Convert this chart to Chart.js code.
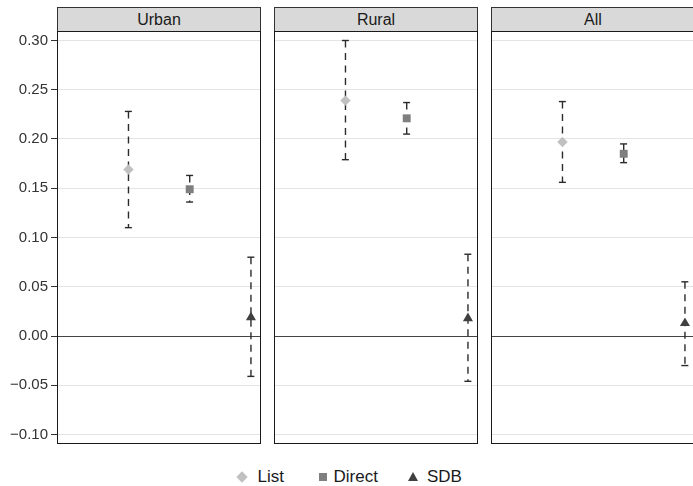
<!DOCTYPE html>
<html><head><meta charset="utf-8">
<script src="https://cdn.jsdelivr.net/npm/chart.js@4"></script>
<style>
html,body{margin:0;padding:0;background:#fff;width:693px;height:486px;overflow:hidden;position:relative;font-family:"Liberation Sans",Arial,sans-serif;}
canvas{position:absolute;}
.strip{position:absolute;top:7px;height:25px;width:204px;background:#d9d9d9;border:1px solid #333;box-sizing:border-box;text-align:center;font-size:16px;line-height:23px;color:#1a1a1a;}
.leg{position:absolute;top:467px;font-size:17px;line-height:20px;color:#1a1a1a;}
.sym{position:absolute;}
</style>
</head><body>
<div class="strip" id="s0" style="left:57px"></div>
<div class="strip" id="s1" style="left:274px"></div>
<div class="strip" id="s2" style="left:491px"></div>
<canvas id="c0" width="261" height="413" style="left:0;top:31px"></canvas>
<canvas id="c1" width="204" height="413" style="left:274px;top:31px"></canvas>
<canvas id="c2" width="204" height="413" style="left:491px;top:31px"></canvas>
<div id="legend"></div>
<script>
// ---- data ----
const panels = ['Urban', 'Rural', 'All'];
const seriesNames = ['List', 'Direct', 'SDB'];
const listEst   = [0.169, 0.239, 0.197];
const listLo    = [0.110, 0.179, 0.156];
const listHi    = [0.228, 0.300, 0.238];
const directEst = [0.149, 0.221, 0.185];
const directLo  = [0.136, 0.205, 0.176];
const directHi  = [0.163, 0.237, 0.195];
const sdbEst    = [0.019, 0.018, 0.013];
const sdbLo     = [-0.041, -0.046, -0.030];
const sdbHi     = [0.080, 0.083, 0.055];
const yTicks      = [-0.10, -0.05, 0.00, 0.05, 0.10, 0.15, 0.20, 0.25, 0.30];
const yTickLabels = ['\u22120.10', '\u22120.05', '0.00', '0.05', '0.10', '0.15', '0.20', '0.25', '0.30'];

// ---- styles ----
const est = [listEst, directEst, sdbEst];
const lo = [listLo, directLo, sdbLo];
const hi = [listHi, directHi, sdbHi];
const colors = ['#c0c0c0', '#7f7f7f', '#404040'];
const styles = ['rectRot', 'rect', 'triangle'];
const radii = [5.2, 5.6, 5.8];
const FONT = '"Liberation Sans", Arial, sans-serif';

const errorBars = {
  id: 'errorBars',
  beforeDatasetsDraw(chart) {
    const ctx = chart.ctx, xs = chart.scales.x, ys = chart.scales.y;
    const p = chart.options.plugins.errorBars.panel;
    ctx.save();
    ctx.strokeStyle = '#2b2b2b';
    ctx.lineWidth = 1.4;
    ctx.setLineDash([7, 5.5]);
    const seg = (x1, y1, x2, y2) => {
      ctx.beginPath(); ctx.moveTo(x1, y1); ctx.lineTo(x2, y2); ctx.stroke();
    };
    for (let s = 0; s < 3; s++) {
      const x = xs.getPixelForValue(s + 1);
      const yh = ys.getPixelForValue(hi[s][p]);
      const yl = ys.getPixelForValue(lo[s][p]);
      const w = 3.6;
      seg(x - w, yh, x + w, yh);
      seg(x, yh, x, yl);
      seg(x - w, yl, x + w, yl);
    }
    ctx.restore();
  },
  afterDraw(chart) {
    const a = chart.chartArea, ctx = chart.ctx;
    ctx.save();
    ctx.strokeStyle = '#1a1a1a';
    ctx.lineWidth = 1;
    ctx.strokeRect(a.left + 0.5, a.top + 0.5, a.right - a.left - 1, a.bottom - a.top - 1);
    ctx.restore();
  }
};

function makePanel(p) {
  const showAxis = p === 0;
  document.getElementById('s' + p).textContent = panels[p];
  new Chart(document.getElementById('c' + p), {
    type: 'scatter',
    data: {
      datasets: seriesNames.map((name, s) => ({
        label: name,
        data: [{ x: s + 1, y: est[s][p] }],
        pointStyle: styles[s],
        pointRadius: radii[s],
        pointBackgroundColor: colors[s],
        pointBorderWidth: 0,
        pointHoverRadius: radii[s],
        clip: false
      }))
    },
    options: {
      responsive: false,
      animation: false,
      devicePixelRatio: 1,
      layout: { padding: 0, autoPadding: false },
      events: [],
      plugins: {
        legend: { display: false },
        tooltip: { enabled: false },
        errorBars: { panel: p }
      },
      scales: {
        x: { type: 'linear', display: false, min: -0.167, max: 3.164 },
        y: {
          type: 'linear',
          min: -0.10964, max: 0.30964,
          afterBuildTicks(scale) { scale.ticks = yTicks.map(v => ({ value: v })); },
          afterFit(scale) {
            scale.width = showAxis ? 57 : 0;
            scale.paddingTop = 0; scale.paddingBottom = 0;
          },
          border: { display: false },
          grid: {
            drawTicks: showAxis,
            tickLength: 6,
            tickColor: '#333333',
            tickWidth: 1,
            color: (c) => (c.tick && Math.abs(c.tick.value) < 1e-9) ? '#444444' : '#e4e4e4',
            lineWidth: 1
          },
          ticks: {
            display: showAxis,
            padding: 3,
            color: '#333333',
            font: { family: FONT, size: 15 },
            callback: (v, i) => yTickLabels[i]
          }
        }
      }
    },
    plugins: [errorBars]
  });
}
panels.forEach((_, p) => makePanel(p));

// ---- legend ----
const leg = document.getElementById('legend');
const legX = [241.7, 323.3, 412.7];
const textX = [257.5, 333.5, 427];
seriesNames.forEach((name, s) => {
  const sym = document.createElement('div');
  sym.className = 'sym';
  if (s === 0) {
    sym.style.cssText = `left:${legX[s]-4}px;top:${477.3-4}px;width:8px;height:8px;background:${colors[s]};transform:rotate(45deg);position:absolute;`;
  } else if (s === 1) {
    sym.style.cssText = `left:${legX[s]-4}px;top:${477.3-4}px;width:8px;height:8px;background:${colors[s]};position:absolute;`;
  } else {
    sym.style.cssText = `left:${legX[s]-5}px;top:${477.3-5}px;width:0;height:0;border-left:5px solid transparent;border-right:5px solid transparent;border-bottom:9px solid ${colors[s]};position:absolute;`;
  }
  leg.appendChild(sym);
  const t = document.createElement('div');
  t.className = 'leg';
  t.style.left = textX[s] + 'px';
  t.textContent = name;
  leg.appendChild(t);
});
</script>
</body></html>
